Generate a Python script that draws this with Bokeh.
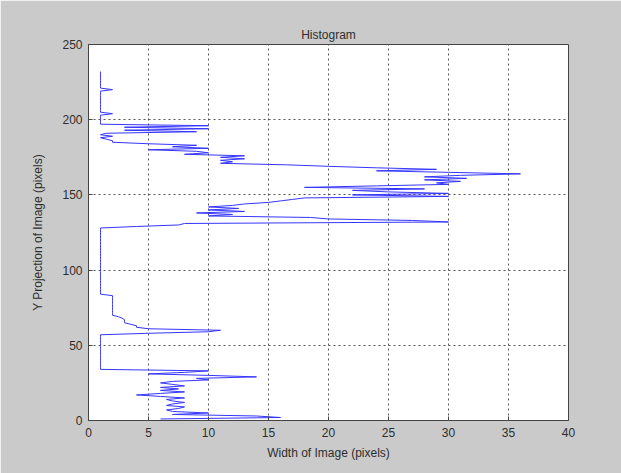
from bokeh.plotting import figure
from bokeh.models import FixedTicker, Range1d
from bokeh.embed import file_html
from bokeh.resources import INLINE

# Width of image (pixels) for each row of the Y projection, rows 1..232
widths = [
    6, 16, 14, 7, 10, 7, 6.5, 7.5, 8, 6.5,
    7, 8, 7, 6.5, 8, 6, 4, 6, 8, 6,
    7.5, 6, 8, 7, 6, 7, 10, 9, 14, 10,
    5, 8, 10, 1, 1, 1, 1, 1, 1, 1,
    1, 1, 1, 1, 1, 1, 1, 1, 1, 1,
    1, 1, 1, 1, 1, 1, 1, 5, 10, 11,
    5, 4, 4, 3.5, 3, 3, 3, 2.8, 2.5, 2,
    2, 2, 2, 2, 2, 2, 2, 2, 2, 2,
    2, 2, 2, 1, 1, 1, 1, 1, 1, 1,
    1, 1, 1, 1, 1, 1, 1, 1, 1, 1,
    1, 1, 1, 1, 1, 1, 1, 1, 1, 1,
    1, 1, 1, 1, 1, 1, 1, 1, 1, 1,
    1, 1, 1, 1, 1, 1, 1, 1, 4, 7.5,
    8, 30, 27, 20, 18.5, 10, 12, 9, 13, 10,
    12.5, 10, 12, 13, 15, 16, 17, 18, 30, 22,
    30, 25, 22, 28, 18, 24, 30, 29, 31, 28,
    31.5, 28, 31, 36, 30, 24, 29, 24, 20, 16.5,
    11, 12, 11, 13, 11, 13, 8, 10, 9, 5,
    10, 7, 9, 5, 2, 2, 1.5, 1, 2, 1,
    1.5, 9, 3, 10, 3, 10, 1, 1, 1, 1,
    1, 1, 1, 2, 1, 1, 1, 1, 1, 1,
    1, 1, 1, 1, 1, 1, 1, 1, 1, 2,
    1, 1, 1, 1, 1, 1, 1, 1, 1, 1,
    1, 1,
]
rows = list(range(1, len(widths) + 1))

x_ticks = [0, 5, 10, 15, 20, 25, 30, 35, 40]
y_ticks = [0, 50, 100, 150, 200, 250]

title_text = "Histogram"
x_label = "Width of Image (pixels)"
y_label = "Y Projection of Image (pixels)"

BG = "#cacaca"
FONT = "Liberation Sans"
TXT = "#2e2e2e"

p = figure(
    width=621, height=473,
    output_backend="svg", toolbar_location=None,
    x_range=Range1d(0, 40), y_range=Range1d(0, 250),
    min_border_left=88, min_border_right=53,
    min_border_top=44, min_border_bottom=53,
    background_fill_color="white", border_fill_color=BG,
    title=title_text,
)
p.title.align = "center"
p.title.text_font = FONT
p.title.text_font_style = "normal"
p.title.text_font_size = "12px"
p.title.text_color = TXT
p.title.standoff = 6

p.outline_line_color = "#444444"
p.outline_line_width = 1

p.line(widths, rows, line_color="#3535ff", line_width=1)

for ax in (p.xaxis[0], p.yaxis[0]):
    ax.major_label_text_font = FONT
    ax.major_label_text_font_size = "12px"
    ax.major_label_text_color = TXT
    ax.axis_label_text_font = FONT
    ax.axis_label_text_font_size = "12px"
    ax.axis_label_text_font_style = "normal"
    ax.axis_label_text_color = TXT
    ax.axis_line_color = "#444444"
    ax.major_tick_in = 4
    ax.major_tick_out = 0
    ax.major_tick_line_color = "#444444"
    ax.minor_tick_line_color = None

p.xaxis[0].ticker = FixedTicker(ticks=x_ticks)
p.yaxis[0].ticker = FixedTicker(ticks=y_ticks)
p.xaxis[0].axis_label = x_label
p.yaxis[0].axis_label = y_label
p.xaxis[0].major_label_standoff = 7
p.yaxis[0].major_label_standoff = 6
p.xaxis[0].axis_label_standoff = 6
p.yaxis[0].axis_label_standoff = 14

p.xgrid.ticker = FixedTicker(ticks=x_ticks)
p.ygrid.ticker = FixedTicker(ticks=y_ticks)
for g in (p.xgrid[0], p.ygrid[0]):
    g.grid_line_color = "#555555"
    g.grid_line_dash = "2 3"
    g.grid_line_width = 1

open("out.html", "w").write(file_html(p, INLINE))
